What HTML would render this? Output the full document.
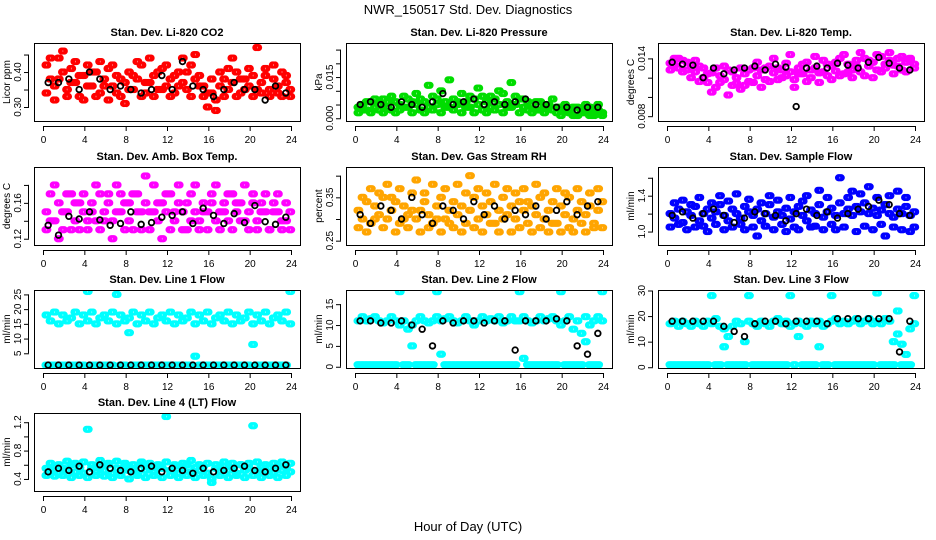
<!DOCTYPE html>
<html><head><meta charset="utf-8"><style>
body{margin:0;background:#fff;}
svg{display:block;font-family:"Liberation Sans",sans-serif;}
</style></head><body>
<svg id="chart" width="936" height="540" viewBox="0 0 936 540">
<text x="468" y="14" text-anchor="middle" font-size="13">NWR_150517  Std. Dev. Diagnostics</text>
<text x="468" y="531" text-anchor="middle" font-size="13">Hour of Day (UTC)</text>
</svg>
<script>
const hours60=[0.2,0.6,1,1.4,1.8,2.2,2.6,3,3.4,3.8,4.2,4.6,5,5.4,5.8,6.2,6.6,7,7.4,7.8,8.2,8.6,9,9.4,9.8,10.2,10.6,11,11.4,11.8,12.2,12.6,13,13.4,13.8,14.2,14.6,15,15.4,15.8,16.2,16.6,17,17.4,17.8,18.2,18.6,19,19.4,19.8,20.2,20.6,21,21.4,21.8,22.2,22.6,23,23.4,23.8];
const hours24=[0.5,1.5,2.5,3.5,4.5,5.5,6.5,7.5,8.5,9.5,10.5,11.5,12.5,13.5,14.5,15.5,16.5,17.5,18.5,19.5,20.5,21.5,22.5,23.5];
const xTicks=[0,4,8,12,16,20,24];

const co2A=[0.42,0.38,0.36,0.44,0.40,0.35,0.41,0.37,0.33,0.39,0.42,0.36,0.40,0.34,0.38,0.41,0.36,0.39,0.33,0.37,0.40,0.35,0.38,0.42,0.34,0.37,0.39,0.35,0.41,0.36,0.38,0.34,0.40,0.37,0.35,0.42,0.38,0.36,0.33,0.30,0.34,0.32,0.36,0.38,0.35,0.37,0.40,0.34,0.38,0.36,0.39,0.35,0.37,0.41,0.35,0.38,0.36,0.40,0.37,0.35];
const co2B=[0.34,0.44,0.32,0.38,0.46,0.33,0.37,0.43,0.39,0.32,0.36,0.40,0.33,0.43,0.36,0.32,0.42,0.34,0.38,0.31,0.35,0.39,0.43,0.33,0.37,0.44,0.33,0.40,0.35,0.42,0.33,0.39,0.36,0.44,0.40,0.33,0.45,0.39,0.36,0.34,0.38,0.29,0.40,0.33,0.41,0.44,0.33,0.38,0.35,0.41,0.33,0.47,0.34,0.39,0.33,0.42,0.34,0.33,0.39,0.33];
const co2K=[0.37,0.37,0.38,0.35,0.40,0.38,0.35,0.36,0.35,0.34,0.35,0.39,0.35,0.43,0.36,0.35,0.33,0.35,0.37,0.35,0.35,0.32,0.36,0.34];

const prA=[0.004,0.005,0.003,0.006,0.004,0.005,0.007,0.004,0.003,0.006,0.005,0.008,0.004,0.006,0.005,0.007,0.006,0.004,0.008,0.005,0.010,0.006,0.004,0.007,0.005,0.009,0.006,0.004,0.007,0.005,0.008,0.006,0.004,0.007,0.005,0.009,0.006,0.004,0.005,0.007,0.004,0.006,0.005,0.003,0.006,0.004,0.005,0.003,0.002,0.004,0.003,0.002,0.004,0.001,0.003,0.002,0.004,0.001,0.003,0.002];
const prB=[0.002,0.003,0.006,0.002,0.007,0.003,0.002,0.006,0.008,0.002,0.003,0.004,0.007,0.002,0.009,0.003,0.002,0.012,0.003,0.007,0.002,0.004,0.014,0.003,0.006,0.002,0.004,0.008,0.002,0.011,0.003,0.002,0.008,0.003,0.010,0.002,0.004,0.013,0.008,0.002,0.007,0.003,0.002,0.006,0.003,0.002,0.005,0.007,0.004,0.001,0.005,0.003,0.001,0.004,0.002,0.005,0.001,0.003,0.005,0.001];
const prK=[0.005,0.006,0.005,0.004,0.006,0.005,0.004,0.006,0.009,0.005,0.006,0.007,0.005,0.006,0.005,0.006,0.007,0.005,0.005,0.004,0.004,0.003,0.004,0.004];

const tpA=[0.0135,0.014,0.0130,0.0138,0.0128,0.0134,0.0126,0.0132,0.0120,0.0115,0.0125,0.0110,0.0122,0.0118,0.0128,0.0112,0.0120,0.0108,0.0124,0.0116,0.0130,0.0122,0.0128,0.0118,0.0132,0.0125,0.0130,0.0120,0.0135,0.0126,0.0118,0.0130,0.0124,0.0136,0.0120,0.0130,0.0125,0.0138,0.0122,0.0132,0.0127,0.0140,0.0124,0.0134,0.0128,0.0138,0.0126,0.0140,0.0132,0.0136,0.0128,0.0142,0.0130,0.0138,0.0133,0.0140,0.0128,0.0136,0.0138,0.0134];
const tpB=[0.0128,0.0133,0.0140,0.0126,0.0136,0.0120,0.0138,0.0116,0.0130,0.0124,0.0105,0.0130,0.0115,0.0132,0.0102,0.0126,0.0114,0.0130,0.0112,0.0128,0.0115,0.0136,0.0110,0.0130,0.0116,0.0140,0.0118,0.0128,0.0122,0.0144,0.0110,0.0124,0.0134,0.0116,0.0128,0.0142,0.0115,0.0126,0.0134,0.0118,0.0136,0.0122,0.0144,0.0126,0.0120,0.0132,0.0146,0.0122,0.0138,0.0120,0.0144,0.0126,0.0134,0.0146,0.0124,0.0132,0.0142,0.0126,0.0140,0.0130];
const tpK=[0.0136,0.0134,0.0133,0.0120,0.0130,0.0124,0.0128,0.0130,0.0132,0.0128,0.0134,0.0131,0.0090,0.0130,0.0132,0.0130,0.0135,0.0133,0.0130,0.0136,0.0141,0.0135,0.0130,0.0128];

const abA=[0.15,0.17,0.14,0.16,0.13,0.15,0.17,0.14,0.16,0.15,0.13,0.16,0.14,0.17,0.15,0.16,0.14,0.18,0.15,0.16,0.14,0.17,0.15,0.13,0.16,0.15,0.18,0.14,0.16,0.15,0.17,0.14,0.16,0.15,0.13,0.17,0.15,0.14,0.16,0.15,0.17,0.14,0.15,0.16,0.14,0.17,0.15,0.16,0.14,0.15,0.17,0.14,0.16,0.15,0.13,0.16,0.15,0.14,0.16,0.15];
const abB=[0.13,0.14,0.18,0.12,0.15,0.17,0.13,0.16,0.13,0.17,0.14,0.15,0.18,0.13,0.14,0.17,0.12,0.15,0.17,0.13,0.16,0.13,0.17,0.15,0.19,0.13,0.15,0.16,0.12,0.17,0.13,0.15,0.18,0.13,0.16,0.14,0.18,0.13,0.15,0.13,0.16,0.18,0.13,0.15,0.17,0.13,0.16,0.14,0.18,0.13,0.16,0.13,0.15,0.17,0.13,0.15,0.17,0.13,0.14,0.13];
const abK=[0.135,0.124,0.145,0.142,0.150,0.141,0.135,0.137,0.150,0.136,0.138,0.144,0.146,0.150,0.137,0.154,0.146,0.137,0.148,0.138,0.157,0.139,0.136,0.144];

const rhA=[0.32,0.30,0.34,0.29,0.33,0.31,0.35,0.30,0.32,0.34,0.29,0.33,0.31,0.36,0.30,0.32,0.34,0.31,0.29,0.33,0.35,0.30,0.32,0.34,0.31,0.33,0.29,0.32,0.35,0.30,0.33,0.31,0.34,0.29,0.32,0.35,0.31,0.33,0.30,0.34,0.32,0.29,0.33,0.31,0.35,0.30,0.32,0.34,0.29,0.33,0.31,0.35,0.30,0.32,0.34,0.31,0.33,0.29,0.32,0.34];
const rhB=[0.28,0.35,0.27,0.37,0.30,0.36,0.28,0.38,0.35,0.27,0.37,0.30,0.28,0.32,0.39,0.27,0.36,0.28,0.38,0.30,0.27,0.37,0.29,0.28,0.38,0.27,0.36,0.40,0.28,0.37,0.27,0.36,0.29,0.38,0.27,0.30,0.37,0.27,0.36,0.28,0.37,0.34,0.27,0.38,0.28,0.36,0.27,0.29,0.37,0.27,0.36,0.28,0.27,0.37,0.29,0.27,0.36,0.28,0.37,0.28];
const rhK=[0.31,0.29,0.33,0.32,0.30,0.35,0.31,0.29,0.33,0.32,0.30,0.34,0.31,0.33,0.30,0.32,0.31,0.33,0.30,0.32,0.34,0.31,0.33,0.34];

const sfA=[1.20,1.15,1.25,1.10,1.22,1.18,1.28,1.12,1.20,1.25,1.15,1.22,1.30,1.18,1.12,1.25,1.20,1.15,1.28,1.22,1.18,1.25,1.12,1.20,1.30,1.16,1.22,1.18,1.26,1.14,1.22,1.28,1.18,1.12,1.24,1.20,1.30,1.16,1.22,1.26,1.18,1.32,1.20,1.25,1.18,1.28,1.22,1.32,1.20,1.26,1.18,1.24,1.30,1.20,1.16,1.25,1.20,1.28,1.18,1.22];
const sfB=[1.05,1.32,1.08,1.35,1.02,1.30,1.05,1.38,1.06,1.00,1.32,1.08,1.40,1.02,1.34,1.05,1.42,1.08,1.02,1.36,1.05,0.95,1.32,1.06,1.40,1.02,1.35,1.08,1.00,1.38,1.05,1.02,1.34,1.40,1.05,1.06,1.46,1.02,1.38,1.08,1.02,1.60,1.05,1.38,1.45,1.00,1.42,1.06,1.50,1.02,1.38,1.08,0.95,1.40,1.05,1.45,1.02,1.38,1.00,1.05];
const sfK=[1.18,1.22,1.15,1.20,1.25,1.18,1.10,1.15,1.22,1.20,1.18,1.12,1.20,1.25,1.18,1.22,1.15,1.20,1.25,1.28,1.35,1.30,1.20,1.18];

const l1A=[18,16,19,15,18,16,17,19,15,18,16,19,15,17,18,16,19,15,18,16,17,19,15,18,16,19,15,17,18,16,19,15,18,16,17,19,15,18,16,19,15,17,18,16,19,15,18,16,17,19,15,18,16,19,15,17,18,16,19,15];
const l1B=[1,1,1,1,1,1,1,1,1,1,26,1,1,1,1,1,1,25,1,1,12,1,1,1,1,1,1,1,1,1,1,1,1,1,1,1,4,1,1,1,1,1,1,1,1,1,1,1,1,1,8,1,1,1,1,1,1,1,1,26];
const l1K=[1,1,1,1,1,1,1,1,1,1,1,1,1,1,1,1,1,1,1,1,1,1,1,1];

const l2A=[11,12,11,11.5,12,11,10.5,11,12,11,10,11,9,10,11,12,11,10.5,11,12,11,11.5,12,11,10.5,11,12,11,10,11,12,11,11.5,11,12,10.5,11,12,11,11,12,11,10.5,11,12,11,11.5,12,11,10,11,12,9,11,8,12,10,11,12,11];
const l2B=[0.5,0.5,0.5,0.5,0.5,0.5,0.5,0.5,0.5,0.5,18,0.5,0.5,5,0.5,0.5,0.5,0.5,0.5,18,3,0.5,0.5,0.5,0.5,0.5,0.5,0.5,0.5,0.5,0.5,0.5,0.5,0.5,0.5,0.5,0.5,0.5,0.5,18,2,0.5,0.5,0.5,0.5,0.5,0.5,0.5,0.5,18,0.5,0.5,0.5,0.5,0.5,6,0.5,0.5,0.5,18];
const l2K=[11,11,10.5,10.5,11,10,9,5,11,10.5,11,11,10.5,11,11,4,11,11,11,11.5,11,5,3,8];

const l3A=[17,18,16,18,17,16,18,17,16,18,17,19,16,15,12,16,18,17,10,18,17,16,18,17,16,18,19,17,18,16,17,18,17,16,18,17,18,16,17,18,19,17,18,17,18,19,17,18,19,17,18,17,19,18,10,13,9,5,15,17];
const l3B=[1,1,1,1,1,1,1,1,1,1,28,1,1,8,1,1,1,1,1,28,1,1,1,1,1,1,1,1,1,28,1,12,1,1,1,1,8,1,1,28,1,1,1,1,1,1,1,1,1,1,29,1,1,1,1,22,1,1,1,28];
const l3K=[18,18,18,18,18,16,14,12,17,18,18,17,18,18,18,17,19,19,19,19,19,19,6,18];

const l4A=[0.55,0.50,0.58,0.48,0.55,0.52,0.60,0.50,0.56,0.48,1.10,0.55,0.50,0.58,0.52,0.62,0.48,0.55,0.50,0.58,0.52,0.55,0.48,0.60,0.52,0.56,0.50,0.58,0.55,1.28,0.52,0.58,0.48,0.55,0.60,0.50,0.56,0.52,0.58,0.48,0.40,0.55,0.50,0.58,0.52,0.56,0.48,0.60,0.52,0.55,1.15,0.50,0.58,0.52,0.55,0.48,0.58,0.52,0.56,0.50];
const l4B=[0.45,0.62,0.44,0.60,0.45,0.65,0.42,0.62,0.45,0.64,0.42,0.60,0.45,0.66,0.44,0.60,0.42,0.65,0.45,0.62,0.40,0.60,0.45,0.64,0.42,0.62,0.45,0.60,0.42,0.64,0.45,0.60,0.42,0.62,0.45,0.66,0.42,0.60,0.45,0.62,0.35,0.60,0.45,0.64,0.42,0.62,0.45,0.60,0.42,0.62,0.45,0.64,0.42,0.60,0.45,0.62,0.42,0.64,0.45,0.62];
const l4K=[0.50,0.55,0.52,0.58,0.50,0.60,0.55,0.52,0.50,0.55,0.58,0.50,0.55,0.52,0.48,0.55,0.50,0.52,0.55,0.58,0.52,0.50,0.55,0.60];

const panels=[
 {n:'co2',t:'Stan. Dev. Li-820 CO2',yl:'Licor ppm',c:'#ff0000',r:0,col:0,y0:0.26,y1:0.483,ticks:[0.30,0.35,0.40,0.45],lab:['0.30','','0.40',''],A:co2A,B:co2B,K:co2K},
 {n:'pressure',t:'Stan. Dev. Li-820 Pressure',yl:'kPa',c:'#00dd00',r:0,col:1,y0:-0.001,y1:0.0274,ticks:[0,0.005,0.010,0.015,0.020,0.025],lab:['0.000','','','0.015','',''],A:prA,B:prB,K:prK},
 {n:'temp',t:'Stan. Dev. Li-820 Temp.',yl:'degrees C',c:'#ff00ff',r:0,col:2,y0:0.0075,y1:0.0156,ticks:[0.008,0.010,0.012,0.014],lab:['0.008','','','0.014'],A:tpA,B:tpB,K:tpK},
 {n:'amb-box',t:'Stan. Dev. Amb. Box Temp.',yl:'degrees C',c:'#ff00ff',r:1,col:0,y0:0.113,y1:0.2,ticks:[0.12,0.14,0.16,0.18],lab:['0.12','','0.16',''],A:abA,B:abB,K:abK},
 {n:'rh',t:'Stan. Dev. Gas Stream RH',yl:'percent',c:'#ffa500',r:1,col:1,y0:0.24,y1:0.42,ticks:[0.25,0.30,0.35,0.40],lab:['0.25','','0.35',''],A:rhA,B:rhB,K:rhK},
 {n:'sample-flow',t:'Stan. Dev. Sample Flow',yl:'ml/min',c:'#0000ff',r:1,col:2,y0:0.85,y1:1.72,ticks:[1.0,1.2,1.4,1.6],lab:['1.0','','1.4',''],A:sfA,B:sfB,K:sfK},
 {n:'line1',t:'Stan. Dev. Line 1 Flow',yl:'ml/min',c:'#00ffff',r:2,col:0,y0:0,y1:26.5,ticks:[5,10,15,20,25],lab:['5','10','15','20','25'],A:l1A,B:l1B,K:l1K},
 {n:'line2',t:'Stan. Dev. Line 2 Flow',yl:'ml/min',c:'#00ffff',r:2,col:1,y0:-0.3,y1:18.4,ticks:[0,5,10,15],lab:['0','5','10','15'],A:l2A,B:l2B,K:l2K},
 {n:'line3',t:'Stan. Dev. Line 3 Flow',yl:'ml/min',c:'#00ffff',r:2,col:2,y0:-0.3,y1:30.2,ticks:[0,10,20,30],lab:['0','10','20','30'],A:l3A,B:l3B,K:l3K},
 {n:'line4',t:'Stan. Dev. Line 4 (LT) Flow',yl:'ml/min',c:'#00ffff',r:3,col:0,y0:0.23,y1:1.33,ticks:[0.4,0.6,0.8,1.0,1.2],lab:['0.4','','0.8','','1.2'],A:l4A,B:l4B,K:l4K}
];
const NS='http://www.w3.org/2000/svg';
const svg=document.getElementById('chart');
function mk(tag,at,par){const e=document.createElementNS(NS,tag);for(const k in at)e.setAttribute(k,at[k]);(par||svg).appendChild(e);return e;}
const colX=[34,346,658],rowY=[43,167,290,413],W=266,H=78;
const smear=[0,0.13,0.26];
panels.forEach(p=>{
 const g=mk('g',{});
 
 
 const bx=colX[p.col],by=rowY[p.r];
 const xs=v=>bx+9+v*(248/24);
 const ys=v=>by+H-(v-p.y0)/(p.y1-p.y0)*H;
 const cl=mk('clipPath',{id:'clip-'+p.n},g);mk('rect',{x:bx,y:by,width:W,height:H},cl);
 const tt=mk('text',{x:bx+W/2,y:by-7,'text-anchor':'middle','font-size':'11','font-weight':'bold'},g);tt.textContent=p.t;
 
 
 const pts=mk('g',{'clip-path':'url(#clip-'+p.n+')'},g);
 [p.A,p.B].forEach(arr=>arr.forEach((v,i)=>{
   smear.forEach(d=>{
     const c=mk('circle',{cx:xs(hours60[i]+d),cy:ys(v),r:2.6,fill:'none',stroke:p.c,'stroke-width':2},pts);
     
     
   });
 }));
 p.K.forEach((v,i)=>{
   const c=mk('circle',{cx:xs(hours24[i]),cy:ys(v),r:2.8,fill:'none',stroke:'#000','stroke-width':1.8},pts);
   
   
 });
 const box=mk('rect',{x:bx+0.5,y:by+0.5,width:W,height:H,fill:'none',stroke:'#000','stroke-width':1},g);
 
 
 mk('line',{x1:xs(0),x2:xs(24),y1:by+H+5.5,y2:by+H+5.5,stroke:'#000'},g);
 xTicks.forEach(t=>{
  mk('line',{x1:xs(t)+0.5,x2:xs(t)+0.5,y1:by+H+5,y2:by+H+10,stroke:'#000'},g);
  const l=mk('text',{x:xs(t)+0.5,y:by+H+22,'text-anchor':'middle','font-size':'10'},g);l.textContent=t;
  
  
 });
 mk('line',{x1:bx-5.5,x2:bx-5.5,y1:ys(p.ticks[0]),y2:ys(p.ticks[p.ticks.length-1]),stroke:'#000'},g);
 p.ticks.forEach((t,i)=>{
  const y=ys(t);
  mk('line',{x1:bx-10,x2:bx-5,y1:y+0.5,y2:y+0.5,stroke:'#000'},g);
  if(p.lab[i]){const l=mk('text',{x:bx-13,y:y,'text-anchor':'middle','font-size':'10',transform:'rotate(-90 '+(bx-13)+' '+y+')'},g);l.textContent=p.lab[i];
   
   }
 });
 const yt=mk('text',{x:bx-24,y:by+H/2,'text-anchor':'middle','font-size':'10',transform:'rotate(-90 '+(bx-24)+' '+(by+H/2)+')'},g);yt.textContent=p.yl;
 
 
});
</script>
</body></html>
